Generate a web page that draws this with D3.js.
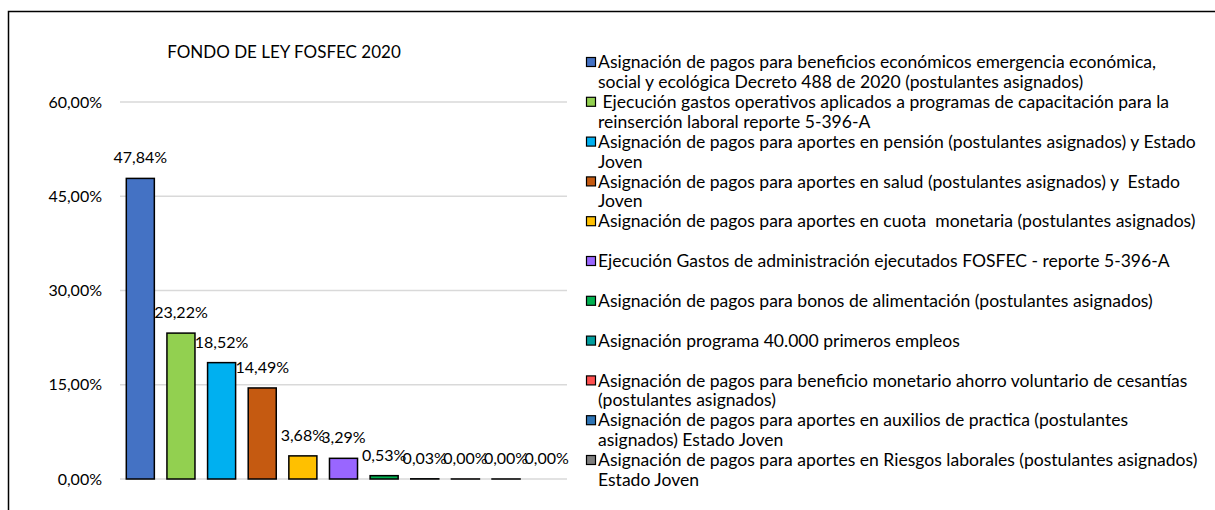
<!DOCTYPE html>
<html>
<head>
<meta charset="utf-8">
<script src="https://cdn.jsdelivr.net/npm/d3@7"></script>
<style>
  html, body { margin: 0; padding: 0; background: #fff; }
  svg { display: block; }
  text { font-family: Lato, "Liberation Sans", sans-serif; fill: #000; white-space: pre; }
</style>
</head>
<body>
<svg id="chart" width="1215" height="510"></svg>
<script>
const title = "FONDO DE LEY FOSFEC 2020";
const categories = [
  "Asignación de pagos para beneficios económicos emergencia económica,\nsocial y ecológica Decreto 488 de 2020 (postulantes asignados)",
  " Ejecución gastos operativos aplicados a programas de capacitación para la\nreinserción laboral reporte 5-396-A",
  "Asignación de pagos para aportes en pensión (postulantes asignados) y Estado\nJoven",
  "Asignación de pagos para aportes en salud (postulantes asignados) y  Estado\nJoven",
  "Asignación de pagos para aportes en cuota  monetaria (postulantes asignados)",
  "Ejecución Gastos de administración ejecutados FOSFEC - reporte 5-396-A",
  "Asignación de pagos para bonos de alimentación (postulantes asignados)",
  "Asignación programa 40.000 primeros empleos",
  "Asignación de pagos para beneficio monetario ahorro voluntario de cesantías\n(postulantes asignados)",
  "Asignación de pagos para aportes en auxilios de practica (postulantes\nasignados) Estado Joven",
  "Asignación de pagos para aportes en Riesgos laborales (postulantes asignados)\nEstado Joven"
];
const values = [47.84, 23.22, 18.52, 14.49, 3.68, 3.29, 0.53, 0.03, 0.004, 0.002, 0];
const colors = ["#4472C4", "#92D050", "#00B0F0", "#C55A11", "#FFC000", "#9966FF",
                "#00B050", "#009E9E", "#FF4F4F", "#2E75B6", "#7F7F7F"];
const yTicks = [0, 15, 30, 45, 60];

const loc = d3.formatLocale({decimal: ",", thousands: ".", grouping: [3], currency: ["", ""]});
const fmt = v => loc.format(".2f")(v) + "%";

const svg = d3.select("#chart");

// outer chart border (extends past the window on right and bottom)
svg.append("rect").attr("x", 8.5).attr("y", 11.5).attr("width", 1300).attr("height", 600)
  .attr("fill", "none").attr("stroke", "#000").attr("stroke-width", 1.5);

const plot = {left: 120, right: 567, top: 102, bottom: 479};

const x = d3.scaleBand().domain(d3.range(values.length))
  .range([plot.left, plot.right]).paddingInner(0.31).paddingOuter(0.155);
const y = d3.scaleLinear().domain([0, 60]).range([plot.bottom, plot.top]);

// gridlines
svg.append("g").selectAll("line").data(yTicks).join("line")
  .attr("x1", plot.left).attr("x2", plot.right)
  .attr("y1", d => y(d)).attr("y2", d => y(d))
  .attr("stroke", "#D9D9D9").attr("stroke-width", 1.3);

// y axis labels
const yAxis = d3.axisLeft(y).tickValues(yTicks).tickFormat(fmt).tickSize(0).tickPadding(0);
const gy = svg.append("g").attr("transform", `translate(${plot.left - 18},0)`).call(yAxis);
gy.select(".domain").remove();
gy.selectAll("text").attr("font-size", 16).attr("font-family", "Lato, sans-serif").attr("fill", "#000");

// title
svg.append("text").attr("x", 284).attr("y", 58).attr("text-anchor", "middle")
  .attr("font-size", 17).text(title);

// bars
const data = values.map((v, i) => ({v, i}));
svg.append("g").selectAll("rect").data(data.filter(d => d.v > 0)).join("rect")
  .attr("x", d => x(d.i)).attr("width", x.bandwidth())
  .attr("y", d => y(d.v)).attr("height", d => y(0) - y(d.v))
  .attr("fill", d => colors[d.i]).attr("stroke", "#000").attr("stroke-width", 1.5);

// data labels
svg.append("g").selectAll("text").data(data).join("text")
  .attr("x", d => x(d.i) + x.bandwidth() / 2)
  .attr("y", d => y(d.v) - 15)
  .attr("text-anchor", "middle").attr("font-size", 16)
  .text(d => fmt(d.v));

// legend
const legendX = 586;
const rowStep = 39.8, lineStep = 19.8, firstY = 62;
const lg = svg.append("g");
const items = lg.selectAll("g").data(categories).join("g")
  .attr("transform", (d, i) => `translate(${legendX},${firstY + i * rowStep})`);
items.append("rect").attr("x", 0.5).attr("y", -4.5).attr("width", 9).attr("height", 9)
  .attr("fill", (d, i) => colors[i]).attr("stroke", "#000").attr("stroke-width", 1.2);
const texts = items.append("text").attr("font-size", 16);
texts.selectAll("tspan").data(d => d.split("\n")).join("tspan")
  .attr("x", 12).attr("y", (d, j) => j * lineStep).attr("dy", "0.35em").text(d => d);

// fit legend font so the longest single-line entry spans its width in the reference
const ref = texts.filter((d, i) => i === 4).node();
const len = ref.getComputedTextLength();
const fs = Math.max(13, Math.min(19, 16 * 598 / len));
texts.attr("font-size", fs);
</script>
</body>
</html>
